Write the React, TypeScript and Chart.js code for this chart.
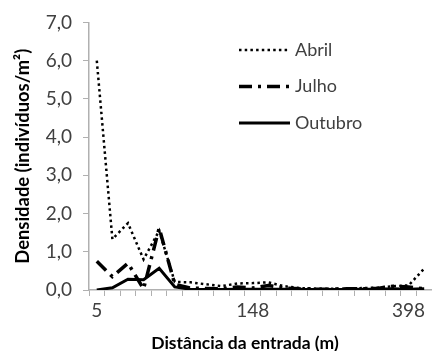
import React, { useEffect, useRef } from "react";
import { Chart, registerables } from "chart.js";

Chart.register(...registerables);

// Distance categories (m) – only some are labelled on the axis
const distances = ["5", "19", "34", "48", "62", "76", "91", "105", "119", "134", "148", "173", "198", "223", "248", "273", "298", "323", "348", "373", "398", "423"];
const shownTicks = ["5", "148", "398"];

// Density (individuals/m²)
const abril = [6.0, 1.33, 1.75, 0.8, 1.55, 0.21, 0.2, 0.15, 0.1, 0.17, 0.18, 0.2, 0.1, 0.05, 0.04, 0.03, 0.04, 0.05, 0.06, 0.1, 0.12, 0.56];
const julho = [0.75, 0.35, 0.7, 0.03, 1.62, 0.15, 0.05, 0.04, 0.03, 0.08, 0.05, 0.12, 0.05, 0.03, 0.02, 0.02, 0.03, 0.03, 0.04, 0.1, 0.08, 0.03];
const outubro = [0.0, 0.06, 0.28, 0.27, 0.57, 0.08, 0.02, 0.01, 0.01, 0.02, 0.02, 0.02, 0.02, 0.01, 0.01, 0.01, 0.01, 0.02, 0.02, 0.03, 0.02, 0.03];

const seriesNames = ["Abril", "Julho", "Outubro"];
const yTitle = "Densidade (indivíduos/m²)";
const xTitle = "Distância da entrada (m)";

const FONT = "Lato, 'Open Sans', sans-serif";
const TICK_COLOR = "#404040";
const AXIS_COLOR = "#b0b0b0";

const inlineLegend = {
  id: "inlineLegend",
  afterDraw(chart: any, _args: any, opts: any) {
    const { ctx } = chart;
    ctx.save();
    chart.data.datasets.forEach((ds: any, i: number) => {
      const y = opts.y + i * opts.gap;
      ctx.beginPath();
      ctx.setLineDash(ds.borderDash || []);
      ctx.lineWidth = ds.borderWidth;
      ctx.strokeStyle = ds.borderColor;
      ctx.lineCap = "butt";
      ctx.moveTo(opts.x, y);
      ctx.lineTo(opts.x + opts.lineLen, y);
      ctx.stroke();
      ctx.setLineDash([]);
      ctx.fillStyle = TICK_COLOR;
      ctx.font = `${opts.fontSize}px ${FONT}`;
      ctx.textAlign = "left";
      ctx.textBaseline = "middle";
      ctx.fillText(ds.label, opts.x + opts.lineLen + opts.textGap, y);
    });
    // x-axis title (offset to the left like the original)
    ctx.fillStyle = "#000";
    ctx.font = `bold ${opts.titleSize}px ${FONT}`;
    ctx.textAlign = "center";
    ctx.textBaseline = "middle";
    ctx.fillText(opts.xTitle, opts.xTitleX, opts.xTitleY);
    ctx.restore();
  },
};

export default function App() {
  const ref = useRef<HTMLCanvasElement | null>(null);

  useEffect(() => {
    if (!ref.current) return;
    const chart = new Chart(ref.current, {
      type: "line",
      data: {
        labels: distances,
        datasets: [
          {
            label: seriesNames[0],
            data: abril,
            borderColor: "#000",
            borderWidth: 2.5,
            borderDash: [2.5, 3.2],
            pointRadius: 0,
            tension: 0,
            fill: false,
          },
          {
            label: seriesNames[1],
            data: julho,
            borderColor: "#000",
            borderWidth: 3.5,
            borderDash: [13, 6, 3, 6],
            pointRadius: 0,
            tension: 0,
            fill: false,
          },
          {
            label: seriesNames[2],
            data: outubro,
            borderColor: "#000",
            borderWidth: 3,
            pointRadius: 0,
            tension: 0,
            fill: false,
          },
        ],
      },
      options: {
        animation: false,
        responsive: true,
        maintainAspectRatio: false,
        layout: { padding: { top: 16, right: 0, left: 0, bottom: 0 } },
        plugins: {
          legend: { display: false },
          tooltip: { enabled: false },
          inlineLegend: {
            x: 239, y: 50, gap: 36.5, lineLen: 51, textGap: 5, fontSize: 18,
            xTitle, xTitleX: 245, xTitleY: 343, titleSize: 17.5,
          },
        } as any,
        scales: {
          x: {
            type: "category",
            offset: true,
            grid: {
              display: true,
              offset: true,
              drawOnChartArea: false,
              drawTicks: true,
              tickLength: 6,
              color: AXIS_COLOR,
            },
            border: { display: true, color: AXIS_COLOR, width: 1.5 },
            ticks: {
              autoSkip: false,
              maxRotation: 0,
              padding: 3,
              color: TICK_COLOR,
              font: { family: FONT, size: 19 },
              callback: (_v: any, i: number) => (shownTicks.includes(distances[i]) ? distances[i] : ""),
            },
            title: { display: false },
            afterFit: (s: any) => {
              s.height = 61;
            },
          },
          y: {
            min: 0,
            max: 7,
            grid: {
              display: true,
              drawOnChartArea: false,
              drawTicks: true,
              tickLength: 6,
              color: AXIS_COLOR,
            },
            border: { display: true, color: AXIS_COLOR, width: 1.5 },
            ticks: {
              stepSize: 1,
              padding: 11,
              color: TICK_COLOR,
              font: { family: FONT, size: 19 },
              callback: (v: any) => Number(v).toFixed(1).replace(".", ","),
            },
            title: {
              display: true,
              text: yTitle,
              color: "#000",
              font: { family: FONT, size: 18.4, weight: "bold" },
              padding: { top: 12, bottom: 0 },
            },
            afterFit: (s: any) => {
              s.width = 89;
            },
          },
        },
      },
      plugins: [inlineLegend],
    });
    return () => chart.destroy();
  }, []);

  return (
    <div style={{ position: "fixed", left: 0, top: 0, width: 432, height: 351, background: "#fff" }}>
      <canvas ref={ref} />
    </div>
  );
}
